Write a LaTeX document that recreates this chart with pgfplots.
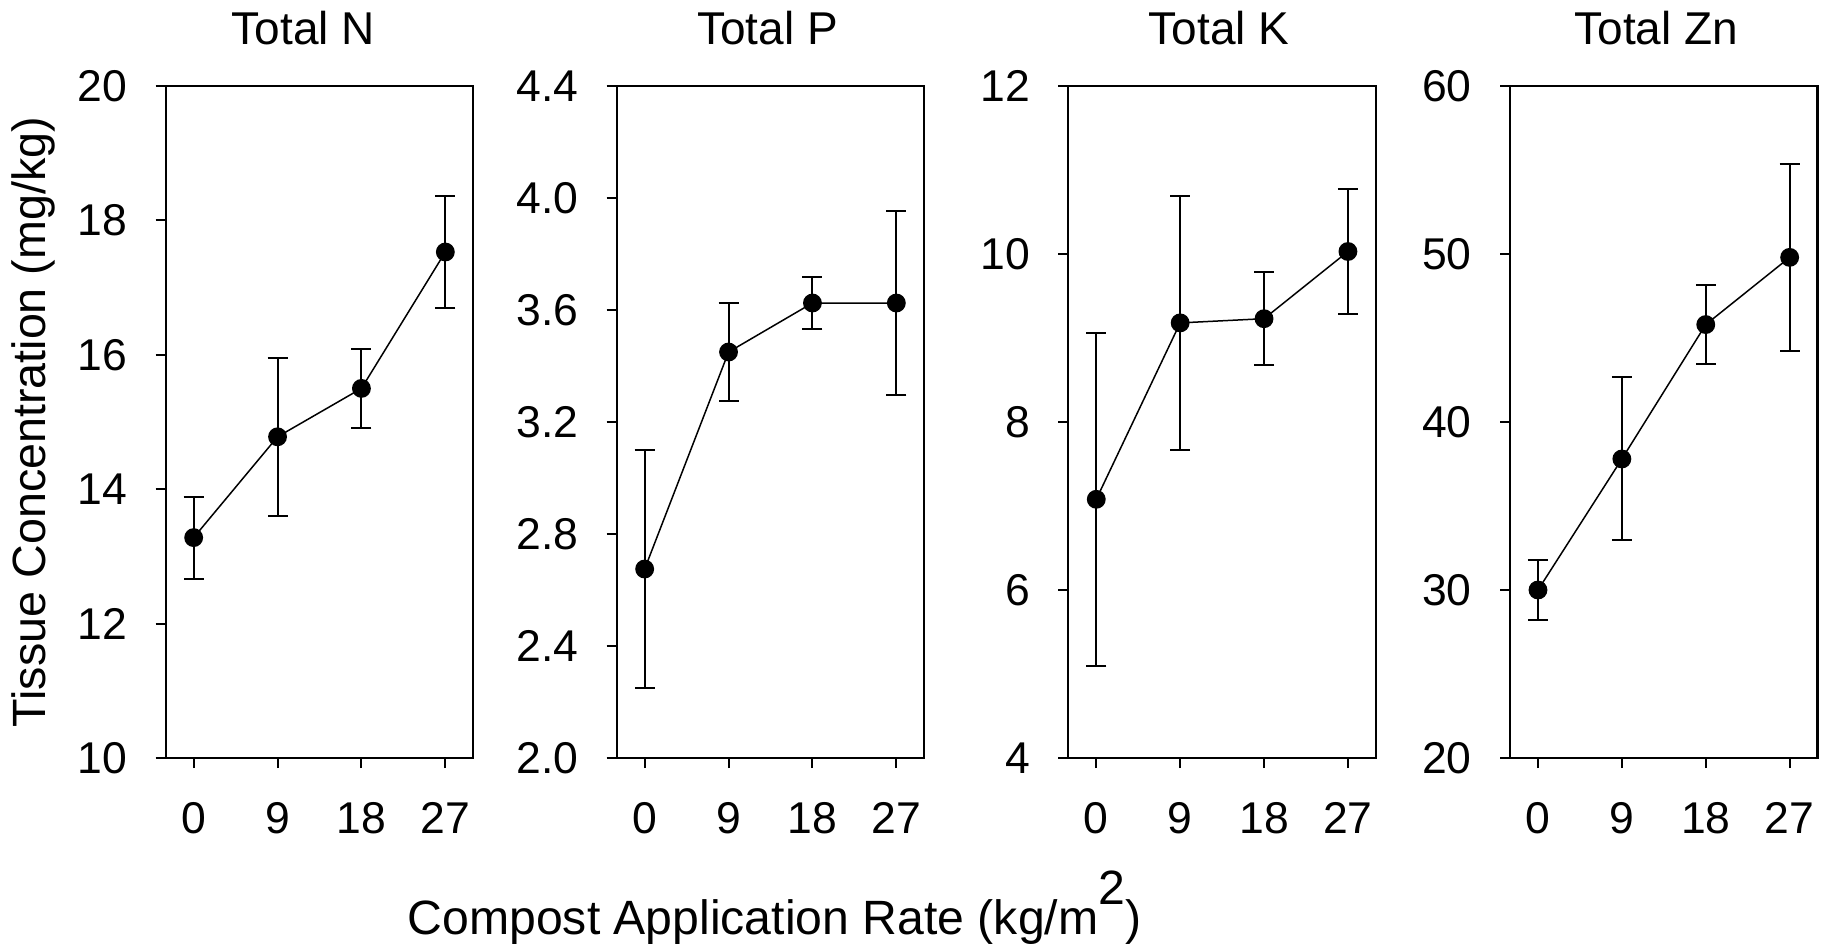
\documentclass[border=0pt]{standalone}
\usepackage{fontspec}
\setmainfont{Liberation Sans}
\usepackage{pgfplots}
\pgfplotsset{compat=1.18}
\usepackage{pgfplotstable}

\pgfplotstableread{
x y e
0 13.28 0.61
9 14.78 1.18
18 15.50 0.59
27 17.53 0.83
}\dataN
\pgfplotstableread{
x y e
0 2.675 0.425
9 3.450 0.174
18 3.625 0.094
27 3.625 0.330
}\dataP
\pgfplotstableread{
x y e
0 7.08 1.98
9 9.18 1.51
18 9.23 0.55
27 10.03 0.74
}\dataK
\pgfplotstableread{
x y e
0 30.0 1.80
9 37.8 4.85
18 45.8 2.35
27 49.8 5.58
}\dataZn

\pgfplotsset{
  panel/.style={
    scale only axis, width=92.28pt, height=201.6pt,
    anchor=south west,
    xmin=-3, xmax=30, xtick={0,9,18,27},
    tick align=outside, tick pos=left,
    major tick length=3pt,
    axis line style={line width=0.7pt},
    every tick/.style={black, line width=0.6pt},
    ticklabel style={font=\fontsize{13.35}{14}\selectfont},
    xticklabel style={anchor=north, inner sep=0pt, yshift=-10pt},
    yticklabel style={anchor=east, inner sep=0pt, xshift=-8.3pt},
    /pgf/number format/assume math mode=true,
    title style={font=\fontsize{13.8}{15}\selectfont, anchor=base, at={(0.5,1)}, yshift=6.6pt},
    clip=false,
  },
  series/.style={black, line width=0.45pt, mark=*, mark size=2.6pt,
    error bars/.cd, y dir=both, y explicit,
    error bar style={line width=0.6pt},
    error mark options={rotate=90, mark size=3pt, line width=0.6pt}},
}

\begin{document}
\begin{tikzpicture}
\useasboundingbox (0,0) rectangle (1833*0.3pt,-948*0.3pt);

\begin{axis}[panel, at={(165.7*0.3pt,-758*0.3pt)},
  ymin=10, ymax=20, ytick={10,12,...,20},
  title={Total N}, title style={xshift=-4.8pt}]
\addplot[series] table[x=x,y=y,y error=e] {\dataN};
\end{axis}

\begin{axis}[panel, at={(616.7*0.3pt,-758*0.3pt)},
  ymin=2, ymax=4.4, ytick={2.0,2.4,...,4.41},
  yticklabel style={/pgf/number format/.cd, fixed, fixed zerofill, precision=1},
  title={Total P}, title style={xshift=-0.9pt}]
\addplot[series] table[x=x,y=y,y error=e] {\dataP};
\end{axis}

\begin{axis}[panel, at={(1068.3*0.3pt,-758*0.3pt)},
  ymin=4, ymax=12, ytick={4,6,...,12},
  title={Total K}, title style={xshift=-0.9pt}]
\addplot[series] table[x=x,y=y,y error=e] {\dataK};
\end{axis}

\begin{axis}[panel, at={(1510*0.3pt,-758*0.3pt)},
  ymin=20, ymax=60, ytick={20,30,...,60},
  title={Total Zn}, title style={xshift=-2.25pt}]
\addplot[series] table[x=x,y=y,y error=e] {\dataZn};
\end{axis}

\node[anchor=base, inner sep=0pt, font=\fontsize{14.45}{16}\selectfont]
  at (774.5*0.3pt,-934*0.3pt) {Compost Application Rate (kg/m\raisebox{0.62em}{2})};
\node[anchor=base, rotate=90, inner sep=0pt, font=\fontsize{14.0}{15}\selectfont]
  at (45*0.3pt,-422*0.3pt) {Tissue Concentration (mg/kg)};
\end{tikzpicture}
\end{document}
